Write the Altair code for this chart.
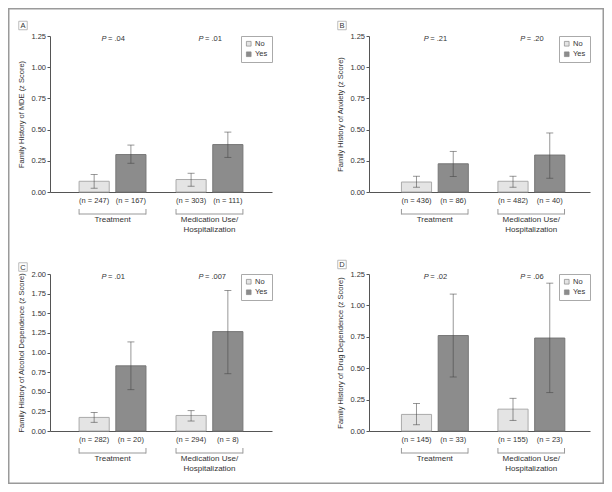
import altair as alt
import pandas as pd

# ---------------- data ----------------
panel_letters = ["A", "B", "C", "D"]
axis_titles = [
    "Family History of MDE (z Score)",
    "Family History of Anxiety (z Score)",
    "Family History of Alcohol Dependence (z Score)",
    "Family History of Drug Dependence (z Score)",
]
group_names = ["Treatment", "Medication Use/\nHospitalization"]
answer_names = ["No", "Yes"]
y_max = [1.25, 1.25, 2.0, 1.25]

# bar order: Treatment-No, Treatment-Yes, Medication-No, Medication-Yes
means_A = [0.086, 0.300, 0.100, 0.380]
lows_A = [0.030, 0.230, 0.046, 0.277]
highs_A = [0.140, 0.376, 0.150, 0.480]
n_A = [247, 167, 303, 111]
p_A = [".04", ".01"]

means_B = [0.080, 0.226, 0.086, 0.296]
lows_B = [0.038, 0.124, 0.038, 0.110]
highs_B = [0.126, 0.325, 0.126, 0.473]
n_B = [436, 86, 482, 40]
p_B = [".21", ".20"]

means_C = [0.173, 0.830, 0.198, 1.266]
lows_C = [0.110, 0.527, 0.127, 0.730]
highs_C = [0.236, 1.135, 0.260, 1.790]
n_C = [282, 20, 294, 8]
p_C = [".01", ".007"]

means_D = [0.132, 0.760, 0.174, 0.740]
lows_D = [0.050, 0.430, 0.084, 0.306]
highs_D = [0.219, 1.090, 0.260, 1.177]
n_D = [145, 33, 155, 23]
p_D = [".02", ".06"]

FONT = "Liberation Sans, Arial, Helvetica, sans-serif"
TXT = "#333333"
AXC = "#555555"
FRAME = "#9a9a9a"
FW = 1.5  # frame line thickness


def panel(i, means, lows, highs, ns, pvals, width, height, align, box_y, frame):
    rows = []
    for gi, g in enumerate(group_names):
        for ai, a in enumerate(answer_names):
            k = gi * 2 + ai
            rows.append(dict(group=g, answer=a, mean=means[k], lo=lows[k],
                             hi=highs[k], nlab=f"(n = {ns[k]})"))
    df = pd.DataFrame(rows)
    gdf = pd.DataFrame({"group": group_names, "p": ["= " + p for p in pvals]})
    ldf = pd.DataFrame({"letter": [panel_letters[i]]})

    xscale = alt.Scale(paddingInner=0.31, paddingOuter=0.3, align=align)
    xaxis = alt.Axis(title=None, labels=False, ticks=False, domain=True,
                     domainColor=AXC, domainWidth=1)

    def X(**kw):
        return alt.X("group:N", sort=group_names, scale=xscale, axis=xaxis, **kw)

    xo = alt.XOffset("answer:N", sort=answer_names,
                     scale=alt.Scale(paddingInner=0.18, paddingOuter=0))
    ticks = [round(v * 0.25, 2) for v in range(int(y_max[i] / 0.25) + 1)]
    yaxis = alt.Axis(title=axis_titles[i], values=ticks, format=".2f",
                     grid=False, domainColor=AXC, tickColor=AXC, tickSize=3,
                     labelPadding=1.5, labelFontSize=7.5, labelColor=TXT,
                     titleFontSize=7.5, titleFontWeight="normal",
                     titleColor=TXT, titlePadding=5, labelFont=FONT,
                     titleFont=FONT)
    yscale = alt.Scale(domain=[0, y_max[i]], nice=False)

    def Y(field):
        return alt.Y(f"{field}:Q", scale=yscale, axis=yaxis)

    base = alt.Chart(df)
    bars = base.mark_bar(strokeWidth=1).encode(
        x=X(), xOffset=xo, y=Y("mean"),
        fill=alt.Fill("answer:N", sort=answer_names,
                      scale=alt.Scale(domain=answer_names,
                                      range=["#e4e4e4", "#8c8c8c"]),
                      legend=alt.Legend(title=None, orient="top-right", offset=0,
                                        padding=4, strokeColor="#aaaaaa",
                                        fillColor="white", symbolType="square",
                                        symbolSize=22, symbolStrokeColor="#888888",
                                        symbolStrokeWidth=0.7, labelFontSize=7.5,
                                        labelColor=TXT, labelOffset=2.5,
                                        rowPadding=1.5, labelFont=FONT)),
        stroke=alt.condition("datum.answer === 'No'", alt.value("#aaaaaa"),
                             alt.value("#777777")),
    )
    err = base.mark_rule(color="#444444", opacity=0.55, strokeWidth=1).encode(
        x=X(), xOffset=xo, y=Y("lo"), y2="hi:Q")
    cap_lo = base.mark_tick(color="#444444", opacity=0.55, size=7, thickness=1).encode(
        x=X(), xOffset=xo, y=Y("lo"))
    cap_hi = base.mark_tick(color="#444444", opacity=0.55, size=7, thickness=1).encode(
        x=X(), xOffset=xo, y=Y("hi"))
    nlab = base.mark_text(fontSize=7.5, color=TXT, baseline="middle").encode(
        x=X(), xOffset=xo, y=alt.value(height + 9), text="nlab:N")

    g = alt.Chart(gdf)
    br_line = g.mark_bar(color="#999999").encode(
        x=X(), y=alt.value(height + 21.5), y2=alt.value(height + 22.5))
    br_l = g.mark_rule(color="#999999", strokeWidth=1).encode(
        x=X(bandPosition=0), y=alt.value(height + 17), y2=alt.value(height + 22.5))
    br_r = g.mark_rule(color="#999999", strokeWidth=1).encode(
        x=X(bandPosition=1), y=alt.value(height + 17), y2=alt.value(height + 22.5))
    glab = g.mark_text(fontSize=8, color=TXT, baseline="top", lineBreak="\n",
                       lineHeight=9.5).encode(
        x=X(), y=alt.value(height + 24), text="group:N")
    p_it = g.mark_text(text="P", fontStyle="italic", fontSize=7.5, color=TXT,
                       align="right", baseline="middle", dx=-6).encode(
        x=X(), y=alt.value(3))
    p_rest = g.mark_text(fontSize=7.5, color=TXT, align="left", baseline="middle",
                         dx=-4.5).encode(x=X(), y=alt.value(3), text="p:N")

    lc = alt.Chart(ldf)
    box = lc.mark_square(size=72, filled=True, fill="white", stroke="#888888",
                         strokeWidth=0.8).encode(x=alt.value(-27), y=alt.value(box_y))
    letter = lc.mark_text(fontSize=7.5, color=TXT, baseline="middle").encode(
        x=alt.value(-27), y=alt.value(box_y + 0.5), text="letter:N")

    layers = [bars, err, cap_lo, cap_hi, nlab, br_line, br_l, br_r, glab,
              p_it, p_rest, box, letter]
    # outer figure frame, drawn as thin filled rectangles (exact bounds)
    for (x1, x2, y1, y2) in frame:
        layers.append(lc.mark_rect(color=FRAME).encode(
            x=alt.value(x1), x2=alt.value(x2), y=alt.value(y1), y2=alt.value(y2)))
    return alt.layer(*layers).properties(width=width, height=height)


L, SA, SB, R, T, BOT = -42, 256, -63, 235, -28, 210
pa = panel(0, means_A, lows_A, highs_A, n_A, p_A, 222, 156, 0.5, -10.5,
           [(L, SA, T, T + FW), (L, L + FW, T, BOT)])
pb = panel(1, means_B, lows_B, highs_B, n_B, p_B, 221, 156, 0.56, -10.5,
           [(SB, R, T, T + FW), (R - FW, R, T, BOT)])
pc = panel(2, means_C, lows_C, highs_C, n_C, p_C, 222, 157, 0.5, -7,
           [(L, L + FW, T, BOT), (L, SA, BOT - FW, BOT)])
pd_ = panel(3, means_D, lows_D, highs_D, n_D, p_D, 221, 157, 0.56, -9.5,
            [(SB, R, BOT - FW, BOT), (R - FW, R, T, BOT)])

chart = alt.vconcat(
    alt.hconcat(pa, pb, spacing=0).resolve_legend(fill="independent"),
    alt.hconcat(pc, pd_, spacing=0).resolve_legend(fill="independent"),
    spacing=0,
).resolve_legend(fill="independent").properties(
    padding=0, background="white"
).configure(font=FONT).configure_view(stroke=None)

chart.save("out.html", embed_options={"renderer": "svg", "actions": False})
